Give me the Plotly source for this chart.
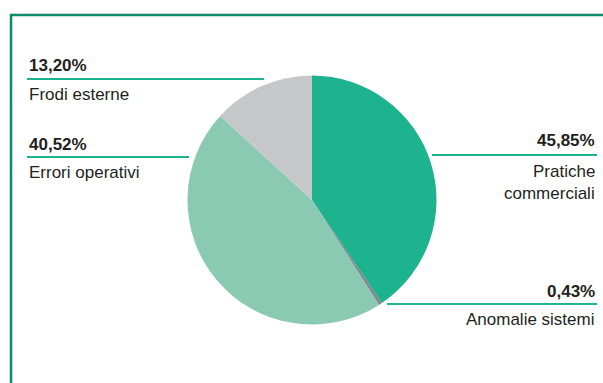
import plotly.graph_objects as go

# ---- data ----
categories = ["Pratiche commerciali", "Anomalie sistemi", "Errori operativi", "Frodi esterne"]
# slice sizes as drawn in the reference pie (clockwise from 12 o'clock)
slice_values = [40.52, 0.43, 45.85, 13.20]
# percentages printed next to each category
printed_shares = ["45,85%", "0,43%", "40,52%", "13,20%"]
label_lines = [["Pratiche", "commerciali"], ["Anomalie sistemi"], ["Errori operativi"], ["Frodi esterne"]]
colors = ["#1db38e", "#858688", "#8acab3", "#c6c7c9"]

W, H = 603, 383
CX, CY, R = 312, 200, 124.5

def px(x):
    return x / W

def py(y):
    return 1 - y / H

fig = go.Figure()
fig.add_trace(go.Pie(
    labels=categories,
    values=slice_values,
    sort=False,
    direction="clockwise",
    rotation=0,
    marker=dict(colors=colors, line=dict(width=0)),
    textinfo="none",
    hoverinfo="none",
    showlegend=False,
    domain=dict(x=[px(CX - R), px(CX + R)], y=[py(CY + R), py(CY - R)]),
))

TEXT = "#231f20"
LINE = "#1db38e"
FRAME = "#0b8a68"
PCT_FONT = dict(family="Liberation Sans, Arial, sans-serif", size=17, color=TEXT)
LBL_FONT = dict(family="Liberation Sans, Arial, sans-serif", size=17, color=TEXT)

layout_spec = {
    "Pratiche commerciali": dict(side="right", x=597, pct_y=141, line_y=155, lx=(432, 597), txt_y=[171.5, 193]),
    "Anomalie sistemi": dict(side="right", x=597, pct_y=291, line_y=304, lx=(387, 597), txt_y=[319.5]),
    "Errori operativi": dict(side="left", x=27, pct_y=144, line_y=157, lx=(27, 189), txt_y=[172]),
    "Frodi esterne": dict(side="left", x=27, pct_y=66, line_y=79, lx=(27, 264), txt_y=[94.5]),
}

annotations = []
shapes = []
for cat, pct, lines in zip(categories, printed_shares, label_lines):
    s = layout_spec[cat]
    xa = "right" if s["side"] == "right" else "left"
    annotations.append(dict(
        x=px(s["x"]), y=py(s["pct_y"]), xref="paper", yref="paper",
        text="<b>" + pct + "</b>", showarrow=False, xanchor=xa, yanchor="middle",
        font=PCT_FONT,
    ))
    for t, ty in zip(lines, s["txt_y"]):
        annotations.append(dict(
            x=px(s["x"]), y=py(ty), xref="paper", yref="paper",
            text=t, showarrow=False, xanchor=xa, yanchor="middle",
            font=LBL_FONT,
        ))
    shapes.append(dict(
        type="line", xref="paper", yref="paper",
        x0=px(s["lx"][0]), x1=px(s["lx"][1]), y0=py(s["line_y"]), y1=py(s["line_y"]),
        line=dict(color=LINE, width=2),
    ))

# frame (top and left rules)
shapes.append(dict(type="line", xref="paper", yref="paper",
                   x0=px(10), x1=px(603), y0=py(15), y1=py(15),
                   line=dict(color=FRAME, width=2.5)))
shapes.append(dict(type="line", xref="paper", yref="paper",
                   x0=px(11), x1=px(11), y0=py(14), y1=py(383),
                   line=dict(color=FRAME, width=2.5)))

fig.update_layout(
    width=W, height=H,
    margin=dict(l=0, r=0, t=0, b=0),
    paper_bgcolor="white",
    plot_bgcolor="white",
    annotations=annotations,
    shapes=shapes,
    showlegend=False,
)

fig.write_html("out.html")
